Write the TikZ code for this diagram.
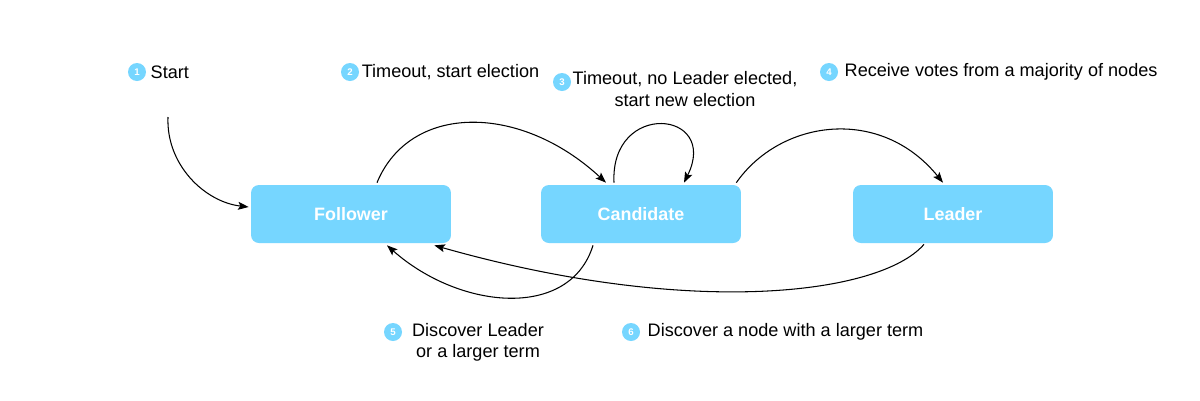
\documentclass[tikz,border=0pt]{standalone}
\usepackage{fontspec}
\setmainfont{Liberation Sans}
\usepackage{xcolor}
\usetikzlibrary{arrows.meta,calc,positioning}
\definecolor{stateblue}{HTML}{76D6FF}

\begin{document}
\begin{tikzpicture}[x=0.02cm,y=-0.02cm,every node/.style={font=\fontsize{10.3}{12}\selectfont},
  state/.style={fill=stateblue,rounded corners=4.5pt,minimum width=4cm,minimum height=1.16cm,text=white,font=\fontsize{10.2}{12}\selectfont\bfseries},
  badge/.style={circle,fill=stateblue,inner sep=0pt,minimum size=0.36cm,text=white,font=\fontsize{5.5}{6}\selectfont\bfseries},
  lbl/.style={inner sep=0pt},
  trans/.style={line width=0.6pt,-{Stealth[length=6pt,width=4.5pt,inset=1.2pt]}}]
  \useasboundingbox[fill=white] (0,0) rectangle (1200,400);
  % states
  \node[state] (follower) at (351,214){Follower};
  \node[state] (candidate) at (641,214){Candidate};
  \node[state] (leader) at (953,214){Leader};
  % transitions
  \coordinate (init) at (168,117);
  \draw[trans] (init) .. controls (166,165) and (205,202) .. ($(follower.west)+(-2,-7)$);
  \draw[trans] ($(follower.north)+(26,-2)$) .. controls (410,103) and (520,103) .. ($(candidate.north)+(-35,-2)$);
  \draw[trans] ($(candidate.north)+(-27,-2)$) .. controls (610,100) and (720,110) .. ($(candidate.north)+(43,-2)$);
  \draw[trans] ($(candidate.north east)+(-5,-2)$) .. controls (780,120) and (880,105) .. ($(leader.north)+(-10,-2)$);
  \draw[trans] ($(candidate.south)+(-48,2)$) .. controls (570,320) and (460,310) .. ($(follower.south)+(36,2)$);
  \draw[trans] ($(leader.south)+(-29,1)$) .. controls (880,295) and (690,318) .. ($(follower.south east)+(-17,2)$);
  % labels
  \node[badge] (b1) at (137,72){1};
  \node[lbl,right=2.3pt of b1] (l1){Start};
  \node[badge] (b2) at (350,72){2};
  \node[lbl,right=1.2pt of b2] (l2){Timeout, start election};
  \node[badge] (b3) at (562,82){3};
  \node[lbl,align=center] (l3) at (685,89){Timeout, no Leader elected,\\start new election};
  \node[badge] (b4) at (829,72){4};
  \node[lbl,right=3.4pt of b4] (l4){Receive votes from a majority of nodes};
  \node[badge] (b5) at (393,332){5};
  \node[lbl,align=center] (l5) at (478,342){Discover Leader\\or a larger term};
  \node[badge] (b6) at (631,332){6};
  \node[lbl,right=4pt of b6] (l6){Discover a node with a larger term};
\end{tikzpicture}
\end{document}
